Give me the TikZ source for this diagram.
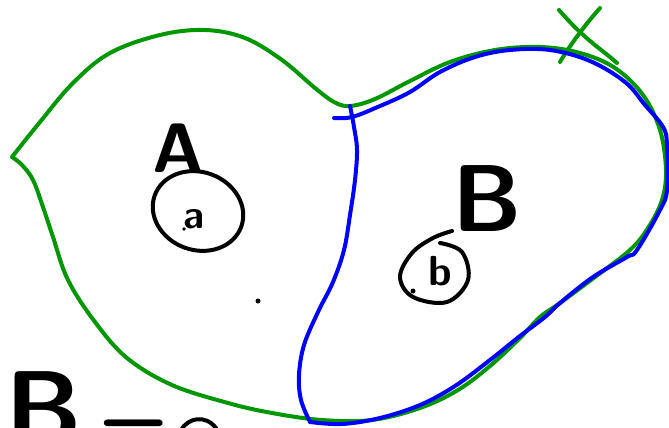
\documentclass[tikz,border=0pt]{standalone}
\tikzset{
  gpen/.style={draw={rgb,255:red,0;green,150;blue,0}, line width=4pt, line cap=round, line join=round},
  bpen/.style={draw={rgb,255:red,0;green,0;blue,255}, line width=4pt, line cap=round, line join=round},
  kpen/.style={draw=black, line width=4pt, line cap=round, line join=round},
  hand/.style={inner sep=0pt, font=\sffamily}
}
\begin{document}
\begin{tikzpicture}[x=1pt,y=-1pt]
\useasboundingbox (0,0) rectangle (669,428);
\clip (0,0) rectangle (669,428);
\fill[white] (0,0) rectangle (669,428);
% green outline
\draw[gpen] plot[smooth, tension=0.6] coordinates {(12,157) (40,122) (73,83) (110,53) (160,35) (205,30) (245,38) (282,60) (315,88) (334,102) (350,106) (375,99) (410,81) (450,62) (495,50) (540,47) (580,53) (615,68) (643,95) (660,130) (666,170) (662,200) (648,228) (630,250) (595,277) (560,303) (540,317) (520,338) (490,366) (458,390) (420,408) (372,420) (322,420) (272,413) (228,403) (172,385) (127,358) (95,322) (68,280) (53,237) (43,207) (33,180) (22,165) (12,157)};
% green X
\draw[gpen] (559,10) .. controls (585,40) and (600,48) .. (617,63);
\draw[gpen] (600,8) .. controls (585,25) and (570,45) .. (560,62);
% blue outline
\draw[bpen] plot[smooth, tension=0.6] coordinates {(334,118) (352,117) (380,106) (410,92) (440,72) (475,57) (510,50) (550,50) (590,61) (625,82) (645,105) (663,127) (667,145) (667,190) (660,210) (637,250) (627,257) (593,277) (560,303) (545,317) (520,336) (490,360) (455,386) (420,405) (380,418) (342,424) (310,422)};
\draw[bpen] plot[smooth, tension=0.6] coordinates {(310,422) (301,400) (299,375) (304,345) (318,312) (333,282) (344,250) (350,215) (355,180) (357,150) (354,127) (350,106)};
% circle a
\draw[kpen, rotate around={-20:(198,211)}] (198,211) ellipse (46 and 39);
% circle b (spiral-like)
\draw[kpen] plot[smooth, tension=0.6] coordinates {(452,231) (433,238) (412,253) (400,277) (413,297) (447,302) (468,280) (462,252) (440,243)};
% letters
\node[hand, font=\sffamily\bfseries\fontsize{70}{70}\selectfont] (A) at (178,148) {A};
\node[hand, font=\sffamily\bfseries\fontsize{40}{40}\selectfont] (a) at (194,219) {a};
\node[hand, font=\sffamily\bfseries\fontsize{95}{95}\selectfont] (B) at (487,199) {B};
\node[hand, font=\sffamily\bfseries\fontsize{42}{42}\selectfont] (b) at (440,271) {b};
\node[hand, font=\sffamily\bfseries\fontsize{105}{105}\selectfont] (B2) at (44,408) {B};
\node[hand, font=\sffamily\bfseries\fontsize{80}{80}\selectfont] (eq) at (134,436) {=};
% small dots
\fill (258,301) circle (2.5);
\fill (413,291) circle (2.5);
\fill (184,229) circle (1.8);
% start of next circle at bottom
\draw[kpen] (181,430) .. controls (188,418) and (205,414) .. (216,428);
\end{tikzpicture}
\end{document}
